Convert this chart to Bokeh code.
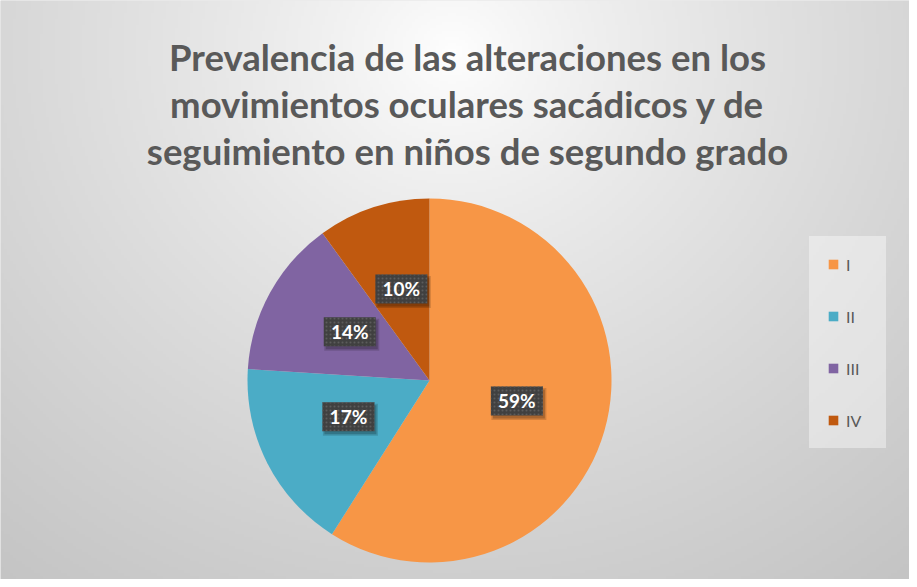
import numpy as np
from bokeh.plotting import figure
from bokeh.models import Range1d, ColumnDataSource, Label, Legend, LegendItem
from bokeh.embed import file_html
from bokeh.resources import INLINE

# ---- data ----
categories = ["I", "II", "III", "IV"]
values = [59, 17, 14, 10]
colors = ["#F79646", "#4BACC6", "#8064A2", "#C0590F"]
title_lines = [
    "Prevalencia de las alteraciones en los",
    "movimientos oculares sacádicos y de",
    "seguimiento en niños de segundo grado",
]

W, H = 909, 579
p = figure(width=W, height=H, output_backend="svg", toolbar_location=None,
           x_range=Range1d(0, W), y_range=Range1d(0, H), min_border=0,
           x_axis_location=None, y_axis_location=None)
p.grid.visible = False
p.outline_line_color = None
p.background_fill_color = "#d8d8d8"
p.border_fill_color = "#d8d8d8"

# ---- background radial gradient ----
gw, gh = 303, 193
gx = (np.arange(gw) + 0.5) * W / gw
gy = (np.arange(gh) + 0.5) * H / gh
X, Y = np.meshgrid(gx, gy)
cxg, cyg = 452.0, H - 52.0
d = np.sqrt(((X - cxg) / 440.0) ** 2 + ((Y - cyg) / 401.0) ** 2)
v = np.clip(255 - 39.0 * d ** 0.8, 0, 255).astype(np.uint32)
img = (255 << 24) | (v << 16) | (v << 8) | v
p.image_rgba(image=[img.astype(np.uint32)], x=0, y=0, dw=W, dh=H)

# ---- pie ----
cx, cy, r = 429.0, 199.0, 182.0
vals = np.array(values, dtype=float)
frac = vals / vals.sum()
cum = np.concatenate([[0.0], np.cumsum(frac)])
start = np.pi / 2 - 2 * np.pi * cum[:-1]
end = np.pi / 2 - 2 * np.pi * cum[1:]
mid = (start + end) / 2
lx = cx + 0.5 * r * np.cos(mid)
ly = cy + 0.5 * r * np.sin(mid) + 5
src = ColumnDataSource(dict(
    cat=categories, start=start, end=end, color=colors,
    lx=lx, ly=ly, sx=lx + 2, sy=ly - 3,
    txt=[f"{int(v)}%" for v in values],
))
wedges = p.wedge(x=cx, y=cy, radius=r, start_angle="start", end_angle="end",
                 direction="clock", fill_color="color", line_color=None, source=src)

# ---- data labels ----
p.rect(x="sx", y="sy", width=55, height=32, fill_color="black", fill_alpha=0.15,
       line_color=None, source=src)
p.rect(x="sx", y="sy", width=52, height=29, fill_color="black", fill_alpha=0.2,
       line_color=None, source=src)
p.rect(x="lx", y="ly", width=52, height=29, fill_color="#404040", line_color=None,
       hatch_pattern="dot", hatch_color="#5c5c5c", hatch_scale=4, hatch_weight=1,
       source=src)
p.text(x="lx", y="ly", text="txt", text_align="center", text_baseline="middle",
       text_font={"value": "Lato"}, text_font_style="bold", text_font_size="19px",
       text_color="white", source=src)

# ---- title ----
for i, line in enumerate(title_lines):
    p.add_layout(Label(x=467, y=523 - 47 * i, text=line, text_align="center",
                       text_baseline="alphabetic", text_font="Lato",
                       text_font_style="bold", text_font_size="36.5px",
                       text_color="#595959"))

# ---- legend ----
items = [LegendItem(label=c, renderers=[wedges], index=i) for i, c in enumerate(categories)]
legend = Legend(items=items, location=(809, 131), orientation="vertical",
                glyph_width=12, glyph_height=12, label_height=20, label_width=22,
                label_standoff=7, spacing=32, padding=18, margin=0,
                label_text_font="Lato", label_text_font_size="16px",
                label_text_color="#595959", border_line_color="white",
                border_line_alpha=0.0,
                background_fill_color="white", background_fill_alpha=0.4)
p.add_layout(legend, "center")

open("out.html", "w").write(file_html(p, INLINE))
